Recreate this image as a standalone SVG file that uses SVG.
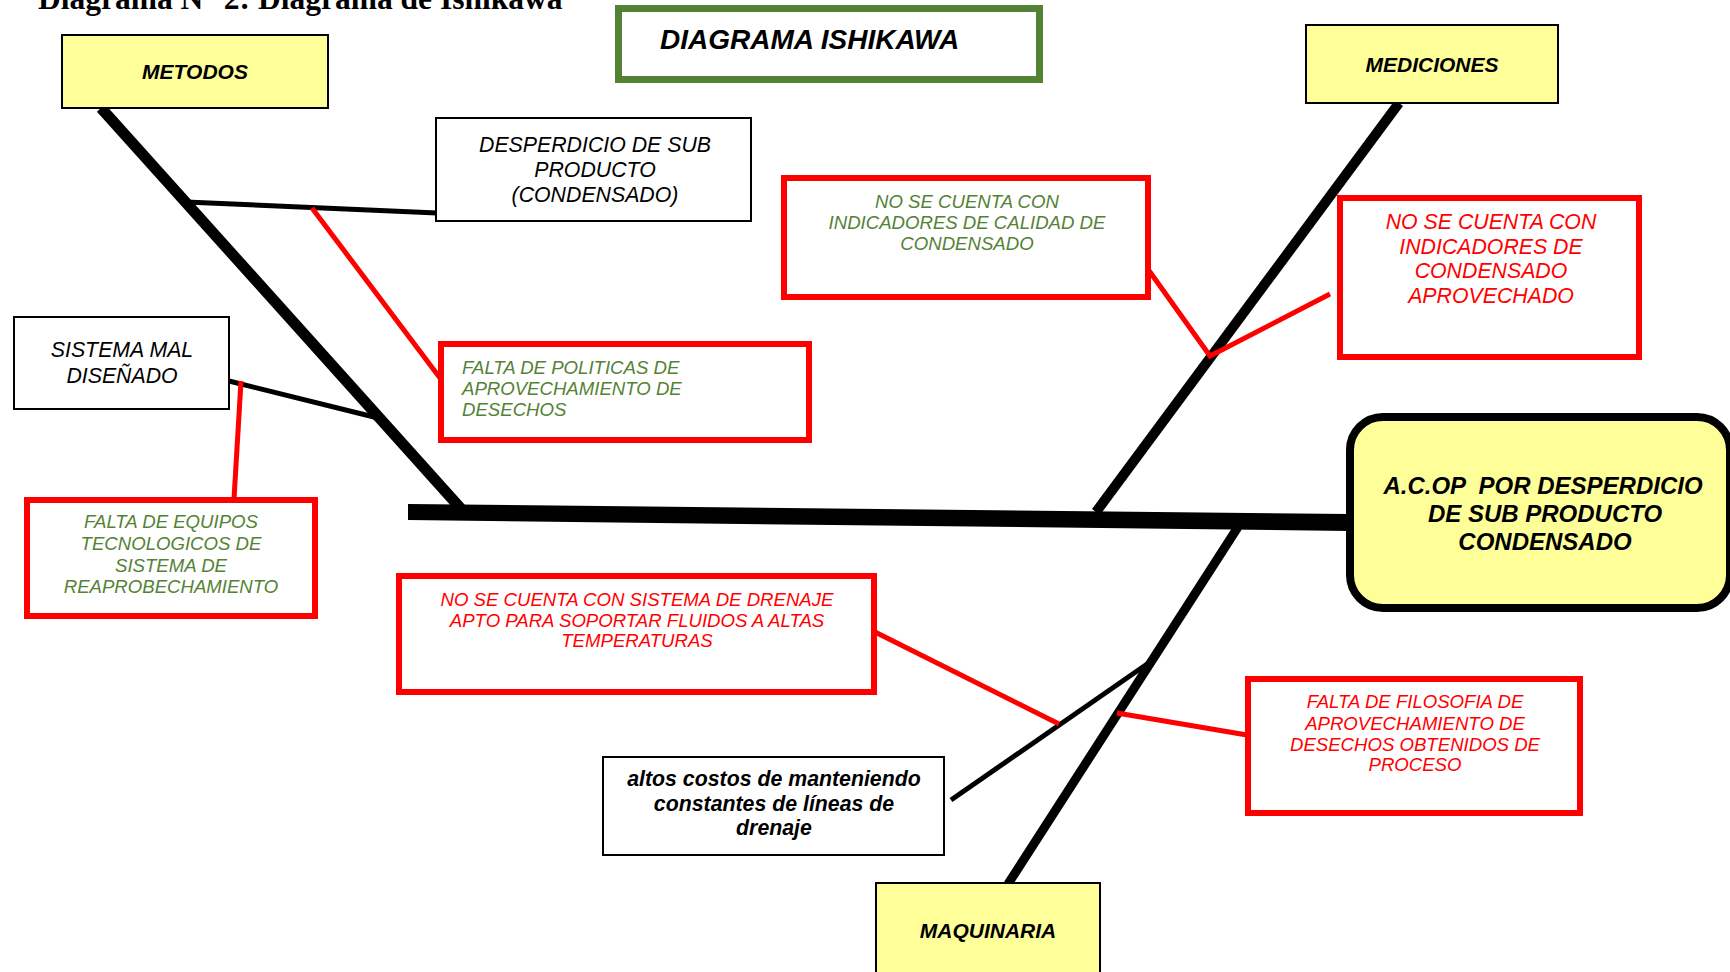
<svg xmlns="http://www.w3.org/2000/svg" width="1730" height="972" viewBox="0 0 1730 972">
  <style>
    text { font-family: "Liberation Sans", Arial, sans-serif; font-style: italic; }
    .heading { font-family: "Liberation Serif", "Times New Roman", serif; font-style: normal; font-weight: bold; font-size: 31.5px; fill: #000; }
    .cat { fill: #FFFF99; stroke: #000; stroke-width: 2; }
    .cat-t { font-weight: bold; font-size: 21px; fill: #000; text-anchor: middle; }
    .effect-t { font-weight: bold; font-size: 24px; fill: #000; text-anchor: middle; white-space: pre; }
    .note { fill: #fff; stroke: #000; stroke-width: 2; }
    .note-t { font-size: 21.3px; fill: #000; text-anchor: middle; }
    .note-b { font-size: 21.3px; font-weight: bold; fill: #000; text-anchor: middle; }
    .cause { fill: #fff; stroke: #FF0000; stroke-width: 6; }
    .green { font-size: 18.6px; fill: #548235; }
    .red { font-size: 18.6px; fill: #FF0000; }
    .red-l { font-size: 21.3px; fill: #FF0000; text-anchor: middle; }
    .mid { text-anchor: middle; }
    .bone { stroke: #000; fill: none; }
    .rib { stroke: #000; stroke-width: 5; fill: none; }
    .rib-red { stroke: #FF0000; stroke-width: 5; fill: none; }
  </style>

  <!-- page heading (cut by the top edge) -->
  <text class="heading" x="38" y="9">Diagrama N° 2: Diagrama de Ishikawa</text>

  <!-- connectors: main spine, category bones and ribs -->
  <g id="connectors">
    <polygon points="408,504 1350,514 1350,531 408,520" fill="#000"/>
    <line class="bone" x1="101" y1="108" x2="463" y2="511" stroke-width="11"/>
    <line class="bone" x1="1399" y1="103" x2="1096" y2="512" stroke-width="10"/>
    <line class="bone" x1="1238" y1="527" x2="1008" y2="884" stroke-width="9"/>

    <line class="rib" x1="186" y1="202" x2="437" y2="213"/>
    <line class="rib" x1="229" y1="381" x2="378" y2="418"/>
    <line class="rib" x1="951" y1="800" x2="1150" y2="662"/>

    <line class="rib-red" x1="312" y1="208" x2="440" y2="378"/>
    <line class="rib-red" x1="241" y1="381" x2="234" y2="499"/>
    <polyline class="rib-red" points="1145,265 1210,356 1330,294"/>
    <line class="rib-red" x1="875" y1="632" x2="1059" y2="724"/>
    <line class="rib-red" x1="1117" y1="713" x2="1247" y2="735"/>
  </g>

  <g id="title">
    <rect x="618.5" y="8.5" width="421" height="71" fill="#fff" stroke="#548235" stroke-width="7"/>
    <text x="660" y="49" font-weight="bold" font-size="28" fill="#000">DIAGRAMA ISHIKAWA</text>
  </g>

  <g id="metodos">
    <rect class="cat" x="62" y="35" width="266" height="73"/>
    <text class="cat-t" x="195" y="79">METODOS</text>
  </g>

  <g id="mediciones">
    <rect class="cat" x="1306" y="25" width="252" height="78"/>
    <text class="cat-t" x="1432" y="72">MEDICIONES</text>
  </g>

  <g id="maquinaria">
    <rect class="cat" x="876" y="883" width="224" height="100"/>
    <text class="cat-t" x="988" y="938">MAQUINARIA</text>
  </g>

  <g id="efecto">
    <rect x="1350" y="417" width="380" height="191" rx="33" ry="33" fill="#FFFF99" stroke="#000" stroke-width="8"/>
    <text class="effect-t" x="1543" y="494" xml:space="preserve">A.C.OP  POR DESPERDICIO</text>
    <text class="effect-t" x="1545" y="522">DE SUB PRODUCTO</text>
    <text class="effect-t" x="1545" y="550">CONDENSADO</text>
  </g>

  <g id="desperdicio">
    <rect class="note" x="436" y="118" width="315" height="103"/>
    <text class="note-t" x="595" y="152">DESPERDICIO DE SUB</text>
    <text class="note-t" x="595" y="177">PRODUCTO</text>
    <text class="note-t" x="595" y="202">(CONDENSADO)</text>
  </g>

  <g id="sistema-mal">
    <rect class="note" x="14" y="317" width="215" height="92"/>
    <text class="note-t" x="122" y="357">SISTEMA MAL</text>
    <text class="note-t" x="122" y="383">DISEÑADO</text>
  </g>

  <g id="altos-costos">
    <rect class="note" x="603" y="757" width="341" height="98"/>
    <text class="note-b" x="774" y="786">altos costos de manteniendo</text>
    <text class="note-b" x="774" y="811">constantes de líneas de</text>
    <text class="note-b" x="774" y="835">drenaje</text>
  </g>

  <g id="falta-politicas">
    <rect class="cause" x="441" y="344" width="368" height="96"/>
    <text class="green" x="462" y="374">FALTA DE POLITICAS DE</text>
    <text class="green" x="462" y="395">APROVECHAMIENTO DE</text>
    <text class="green" x="462" y="416">DESECHOS</text>
  </g>

  <g id="falta-equipos">
    <rect class="cause" x="27" y="500" width="288" height="116"/>
    <text class="green mid" x="171" y="528">FALTA DE EQUIPOS</text>
    <text class="green mid" x="171" y="550">TECNOLOGICOS DE</text>
    <text class="green mid" x="171" y="572">SISTEMA DE</text>
    <text class="green mid" x="171" y="593">REAPROBECHAMIENTO</text>
  </g>

  <g id="indicadores-calidad">
    <rect class="cause" x="784" y="178" width="364" height="119"/>
    <text class="green mid" x="967" y="208">NO SE CUENTA CON</text>
    <text class="green mid" x="967" y="229">INDICADORES DE CALIDAD DE</text>
    <text class="green mid" x="967" y="250">CONDENSADO</text>
  </g>

  <g id="indicadores-aprovechado">
    <rect class="cause" x="1340" y="198" width="299" height="159"/>
    <text class="red-l" x="1491" y="229">NO SE CUENTA CON</text>
    <text class="red-l" x="1491" y="254">INDICADORES DE</text>
    <text class="red-l" x="1491" y="278">CONDENSADO</text>
    <text class="red-l" x="1491" y="303">APROVECHADO</text>
  </g>

  <g id="drenaje">
    <rect class="cause" x="399" y="576" width="475" height="116"/>
    <text class="red mid" x="637" y="606">NO SE CUENTA CON SISTEMA DE DRENAJE</text>
    <text class="red mid" x="637" y="627">APTO PARA SOPORTAR FLUIDOS A ALTAS</text>
    <text class="red mid" x="637" y="647">TEMPERATURAS</text>
  </g>

  <g id="falta-filosofia">
    <rect class="cause" x="1248" y="679" width="332" height="134"/>
    <text class="red mid" x="1415" y="708">FALTA DE FILOSOFIA DE</text>
    <text class="red mid" x="1415" y="730">APROVECHAMIENTO DE</text>
    <text class="red mid" x="1415" y="751">DESECHOS OBTENIDOS DE</text>
    <text class="red mid" x="1415" y="771">PROCESO</text>
  </g>
</svg>
